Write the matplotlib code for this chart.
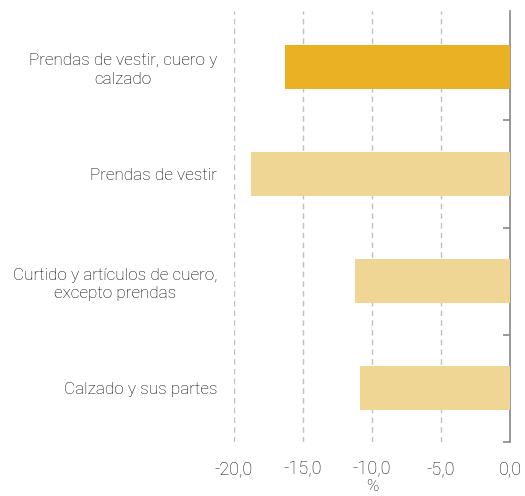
import matplotlib
matplotlib.use("Agg")
import matplotlib.pyplot as plt
from matplotlib.ticker import FixedLocator, FuncFormatter

categories = [
    "Prendas de vestir, cuero y\ncalzado",
    "Prendas de vestir",
    "Curtido y artículos de cuero,\nexcepto prendas",
    "Calzado y sus partes",
]
values = [-16.3, -18.8, -11.2, -10.9]
colors = ["#E9B123", "#F0D695", "#F0D695", "#F0D695"]
xticks = [-20, -15, -10, -5, 0]

plt.rcParams['font.family'] = ['Roboto', 'DejaVu Sans']
plt.rcParams['font.weight'] = 'light'

fig = plt.figure(figsize=(5.25, 4.96), dpi=100)
ax = fig.add_axes([234/525, 1-442/496, (510-234)/525, (442-11)/496])

ypos = list(range(len(categories)))
ax.barh(ypos, values, height=0.41, color=colors, zorder=3)

ax.set_ylim(3.5, -0.52)
ax.set_xlim(-20, 0)
ax.set_xticks(xticks)
ax.xaxis.set_major_formatter(FuncFormatter(lambda v, p: f"{v:.1f}".replace(".", ",")))
ax.grid(axis='x', linestyle=(0, (4, 3)), color='#C0C0C0', linewidth=1.0, zorder=0)
ax.tick_params(axis='x', length=0, pad=13, labelsize=13, labelcolor='#111111')

ax.set_yticks(ypos)
ax.set_yticklabels(categories, fontsize=12.3, color='#000000', multialignment='center',
                   linespacing=1.3, fontweight='light')
ax.tick_params(axis='y', which='major', length=0, pad=12)
ax.yaxis.set_minor_locator(FixedLocator([0.5, 1.5, 2.5, 3.5]))
ax.tick_params(axis='y', which='minor', right=True, left=False, direction='in',
               length=5, color='#888888', width=1.2)

for s in ['top', 'left', 'bottom']:
    ax.spines[s].set_visible(False)
ax.spines['right'].set_color('#888888')
ax.spines['right'].set_linewidth(1.2)

ax.set_xlabel('%', fontsize=12, color='#111111', labelpad=1, fontweight='light')

fig.savefig('out.png', dpi=100)
